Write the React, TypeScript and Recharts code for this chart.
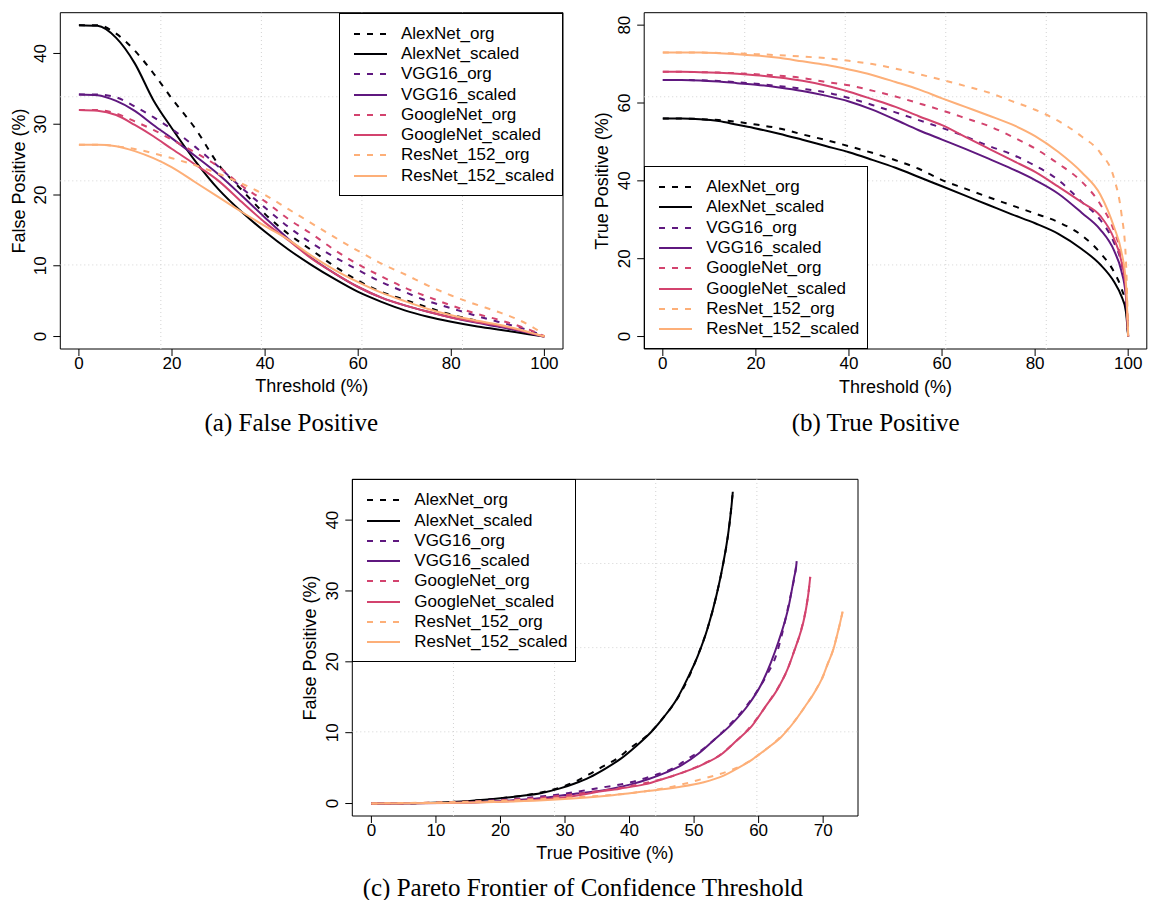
import { LineChart, Line, XAxis, YAxis, ReferenceLine, ReferenceArea } from 'recharts'

// confidence threshold (%) at which every curve was read
const thresholds = [0, 4, 8, 12, 16, 20, 25, 30, 35, 40, 45, 50, 55, 60, 65, 70, 75, 80, 85, 90, 94, 97, 98.5, 99.5, 100]

// false positive (%) per threshold
const alexnetOrgFP = [44.0, 44.0, 42.8, 40.4, 37.2, 33.6, 29.4, 24.3, 20.7, 17.3, 14.5, 12.2, 9.9, 7.9, 6.3, 5.2, 4.1, 3.1, 2.3, 1.5, 0.9, 0.45, 0.22, 0.07, 0]
const alexnetScaledFP = [44.0, 43.9, 42.2, 38.6, 33.4, 29.4, 24.8, 20.8, 17.6, 14.8, 12.3, 10.1, 8.1, 6.3, 4.9, 3.7, 2.8, 2.1, 1.5, 1.0, 0.6, 0.3, 0.15, 0.05, 0]
const vggOrgFP = [34.2, 34.2, 33.8, 32.5, 31.0, 29.3, 26.8, 24.0, 21.0, 18.2, 15.5, 13.2, 11.2, 9.4, 7.7, 6.3, 5.0, 4.0, 3.0, 2.1, 1.4, 0.8, 0.45, 0.15, 0]
const vggScaledFP = [34.2, 34.1, 33.3, 31.9, 29.9, 28.0, 25.5, 22.9, 19.9, 16.8, 13.8, 11.1, 8.9, 7.0, 5.5, 4.4, 3.5, 2.7, 2.0, 1.4, 0.9, 0.45, 0.2, 0.07, 0]
const googleOrgFP = [32.0, 32.0, 31.5, 30.4, 29.2, 27.8, 26.0, 24.0, 21.3, 19.1, 16.6, 14.5, 12.2, 10.2, 8.5, 6.9, 5.6, 4.4, 3.3, 2.4, 1.6, 0.9, 0.5, 0.2, 0]
const googleScaledFP = [32.0, 31.9, 31.3, 29.9, 28.3, 26.5, 24.3, 22.0, 19.0, 16.1, 13.6, 11.0, 8.9, 7.0, 5.5, 4.4, 3.5, 2.7, 2.1, 1.55, 1.0, 0.5, 0.25, 0.08, 0]
const resnetOrgFP = [27.1, 27.1, 26.9, 26.5, 25.9, 25.2, 24.2, 23.0, 21.6, 20.0, 18.0, 16.0, 14.0, 12.1, 10.3, 8.8, 7.2, 5.8, 4.6, 3.5, 2.5, 1.5, 0.9, 0.4, 0]
const resnetScaledFP = [27.1, 27.1, 26.9, 26.2, 25.2, 23.9, 21.8, 19.7, 17.6, 15.6, 13.7, 11.4, 9.4, 7.7, 6.2, 5.0, 3.9, 3.0, 2.3, 1.7, 1.1, 0.55, 0.3, 0.1, 0]

// true positive (%) per threshold
const alexnetOrgTP = [56.0, 56.0, 55.87, 55.61, 55.15, 54.46, 53.47, 51.94, 50.5, 48.9, 47.2, 45.3, 43.1, 40.2, 38.0, 35.8, 33.7, 31.6, 29.4, 26.0, 21.5, 16.5, 12.5, 8.0, 0]
const alexnetScaledTP = [56.0, 55.99, 55.82, 55.36, 54.41, 53.47, 52.12, 50.56, 48.95, 47.35, 45.4, 43.35, 41.0, 38.6, 36.2, 33.8, 31.4, 29.1, 26.4, 22.5, 18.5, 14.0, 10.5, 6.5, 0]
const vggOrgTP = [65.9, 65.9, 65.85, 65.65, 65.35, 64.95, 64.35, 63.65, 62.75, 61.3, 59.5, 57.6, 55.6, 53.6, 51.4, 49.0, 46.8, 43.9, 40.2, 34.6, 30.0, 24.0, 19.0, 11.5, 0]
const vggScaledTP = [65.9, 65.9, 65.8, 65.5, 65.1, 64.7, 64.0, 63.1, 61.9, 60.4, 58.3, 55.7, 53.0, 50.6, 48.2, 45.7, 43.1, 40.2, 36.7, 31.8, 27.5, 22.0, 17.0, 10.5, 0]
const googleOrgTP = [68.0, 68.0, 67.94, 67.81, 67.64, 67.4, 67.0, 66.44, 65.42, 64.55, 63.18, 61.68, 59.92, 58.1, 56.12, 54.1, 51.4, 48.3, 44.4, 39.8, 34.0, 27.0, 21.0, 13.0, 0]
const googleScaledTP = [68.0, 68.0, 67.92, 67.75, 67.5, 67.15, 66.55, 65.7, 64.5, 62.9, 61.0, 59.0, 56.6, 54.3, 51.3, 48.3, 45.3, 42.3, 38.5, 34.5, 31.0, 25.0, 19.5, 12.0, 0]
const resnetOrgTP = [73.0, 73.0, 72.97, 72.87, 72.73, 72.55, 72.28, 71.94, 71.51, 70.83, 70.0, 68.84, 67.42, 65.95, 64.36, 62.69, 60.47, 58.27, 55.4, 51.4, 47.2, 40.5, 32.0, 20.0, 0]
const resnetScaledTP = [73.0, 73.0, 72.97, 72.8, 72.55, 72.2, 71.6, 70.7, 69.8, 68.6, 67.2, 65.4, 63.5, 61.2, 59.0, 56.8, 54.5, 51.5, 47.4, 42.2, 36.5, 28.0, 22.0, 14.0, 0]

const series = [
  { name: 'AlexNet_org', color: '#000004', dashed: true, fp: alexnetOrgFP, tp: alexnetOrgTP },
  { name: 'AlexNet_scaled', color: '#000004', dashed: false, fp: alexnetScaledFP, tp: alexnetScaledTP },
  { name: 'VGG16_org', color: '#5F187F', dashed: true, fp: vggOrgFP, tp: vggOrgTP },
  { name: 'VGG16_scaled', color: '#5F187F', dashed: false, fp: vggScaledFP, tp: vggScaledTP },
  { name: 'GoogleNet_org', color: '#D3436E', dashed: true, fp: googleOrgFP, tp: googleOrgTP },
  { name: 'GoogleNet_scaled', color: '#D3436E', dashed: false, fp: googleScaledFP, tp: googleScaledTP },
  { name: 'ResNet_152_org', color: '#FDAF78', dashed: true, fp: resnetOrgFP, tp: resnetOrgTP },
  { name: 'ResNet_152_scaled', color: '#FDAF78', dashed: false, fp: resnetScaledFP, tp: resnetScaledTP },
]

const fpRows = thresholds.map((t, i) => {
  const row: Record<string, number> = { t }
  series.forEach((s) => (row[s.name] = s.fp[i]))
  return row
})
const tpRows = thresholds.map((t, i) => {
  const row: Record<string, number> = { t }
  series.forEach((s) => (row[s.name] = s.tp[i]))
  return row
})
// pareto frontier: FP against TP, one point per threshold
const paretoPoints = (s: (typeof series)[number]) =>
  thresholds
    .map((_, i) => ({ x: s.tp[i], y: s.fp[i] }))
    .sort((a, b) => a.x - b.x)
    .filter((p, i, arr) => i === 0 || p.x !== arr[i - 1].x)

const DASH = '6 7'
const SANS = '"Liberation Sans", Arial, Helvetica, sans-serif'
const SERIF = '"Liberation Serif", "Times New Roman", serif'

// R style grid(): n evenly spaced lines across the padded range
const gridAt = (lo: number, hi: number, n: number) =>
  Array.from({ length: n - 1 }, (_, k) => lo + ((hi - lo) * (k + 1)) / n)

function RotatedTick(props: any) {
  const { x, y, payload } = props
  const cx = x - 11
  return (
    <text x={cx} y={y} transform={`rotate(-90 ${cx} ${y})`} textAnchor="middle" dominantBaseline="central" fontSize={17} fill="#000">
      {payload.value}
    </text>
  )
}

function LegendBox({ left, top }: { left: number; top: number }) {
  return (
    <div style={{ position: 'absolute', left, top, width: 224, height: 183, border: '1px solid #000', background: '#fff', boxSizing: 'border-box' }}>
      {series.map((s, i) => (
        <div key={s.name} style={{ position: 'absolute', left: 0, top: 10 + i * 20.3, height: 20, display: 'flex', alignItems: 'center', whiteSpace: 'nowrap' }}>
          <svg width={48} height={20} style={{ display: 'block' }}>
            <line x1={14} x2={47} y1={10} y2={10} stroke={s.color} strokeWidth={2} strokeDasharray={s.dashed ? DASH : undefined} />
          </svg>
          <span style={{ marginLeft: 13, fontSize: 17 }}>{s.name}</span>
        </div>
      ))}
    </div>
  )
}

function Title({ x, y, text, rotate, serif }: { x: number; y: number; text: string; rotate?: boolean; serif?: boolean }) {
  return (
    <div
      style={{
        position: 'absolute',
        left: x,
        top: y,
        transform: `translate(-50%, -50%)${rotate ? ' rotate(-90deg)' : ''}`,
        whiteSpace: 'nowrap',
        fontSize: serif ? 25 : 18,
        fontFamily: serif ? SERIF : SANS,
        lineHeight: 1,
      }}
    >
      {text}
    </div>
  )
}

type PanelProps = {
  left: number
  top: number
  width: number
  height: number
  margin: { top: number; right: number; bottom: number; left: number }
  xDomain: [number, number]
  yDomain: [number, number]
  xTicks: number[]
  yTicks: number[]
  pareto?: boolean
  rows?: Record<string, number>[]
}

function Panel(p: PanelProps) {
  return (
    <div style={{ position: 'absolute', left: p.left, top: p.top }}>
      <LineChart width={p.width} height={p.height} data={p.rows} margin={p.margin}>
        <XAxis
          type="number"
          dataKey={p.pareto ? 'x' : 't'}
          domain={p.xDomain}
          ticks={p.xTicks}
          allowDataOverflow
          axisLine={false}
          tickLine={{ stroke: '#000' }}
          tickSize={7}
          tickMargin={1}
          height={1}
          interval={0}
          tick={{ fill: '#000', fontSize: 17 }}
        />
        <YAxis
          type="number"
          domain={p.yDomain}
          ticks={p.yTicks}
          allowDataOverflow
          axisLine={false}
          tickLine={{ stroke: '#000' }}
          tickSize={7}
          tickMargin={2}
          width={1}
          interval={0}
          tick={<RotatedTick />}
        />
        {gridAt(p.xDomain[0], p.xDomain[1], 5).map((g) => (
          <ReferenceLine key={'gx' + g} x={g} stroke="#d3d3d3" strokeDasharray="1 3" />
        ))}
        {gridAt(p.yDomain[0], p.yDomain[1], 4).map((g) => (
          <ReferenceLine key={'gy' + g} y={g} stroke="#d3d3d3" strokeDasharray="1 3" />
        ))}
        {series.map((s) => (
          <Line
            key={s.name}
            data={p.pareto ? paretoPoints(s) : undefined}
            dataKey={p.pareto ? 'y' : s.name}
            type="monotone"
            stroke={s.color}
            strokeWidth={2}
            strokeDasharray={s.dashed ? DASH : undefined}
            dot={false}
            activeDot={false}
            isAnimationActive={false}
          />
        ))}
        <ReferenceArea x1={p.xDomain[0]} x2={p.xDomain[1]} y1={p.yDomain[0]} y2={p.yDomain[1]} fill="none" fillOpacity={0} stroke="#000" strokeWidth={1} />
      </LineChart>
    </div>
  )
}

export default function App() {
  return (
    <div style={{ position: 'absolute', left: 0, top: 0, width: 1149, height: 900, background: '#fff', fontFamily: SANS, color: '#000', overflow: 'hidden' }}>
      <Panel
        left={0}
        top={0}
        width={580}
        height={400}
        margin={{ top: 12.7, left: 59.3, right: 17, bottom: 50 }}
        xDomain={[-4, 104]}
        yDomain={[-1.76, 45.76]}
        xTicks={[0, 20, 40, 60, 80, 100]}
        yTicks={[0, 10, 20, 30, 40]}
        rows={fpRows}
      />
      <LegendBox left={339} top={12.7} />
      <Title x={311.7} y={386} text="Threshold (%)" />
      <Title x={18.5} y={181} text="False Positive (%)" rotate />
      <Title x={291.3} y={421.7} text="(a) False Positive" serif />

      <Panel
        left={580}
        top={0}
        width={569}
        height={400}
        margin={{ top: 12.7, left: 63.2, right: 2.2, bottom: 50 }}
        xDomain={[-4, 104]}
        yDomain={[-3.2, 83.2]}
        xTicks={[0, 20, 40, 60, 80, 100]}
        yTicks={[0, 20, 40, 60, 80]}
        rows={tpRows}
      />
      <LegendBox left={644.2} top={166} />
      <Title x={895.5} y={386.7} text="Threshold (%)" />
      <Title x={601.8} y={181} text="True Positive (%)" rotate />
      <Title x={875.7} y={421.7} text="(b) True Positive" serif />

      <Panel
        left={290}
        top={460}
        width={590}
        height={400}
        margin={{ top: 19.3, left: 61.3, right: 22, bottom: 43 }}
        xDomain={[-2.96, 75.4]}
        yDomain={[-1.76, 45.76]}
        xTicks={[0, 10, 20, 30, 40, 50, 60, 70]}
        yTicks={[0, 10, 20, 30, 40]}
        pareto
      />
      <LegendBox left={352.3} top={479.3} />
      <Title x={605} y={853.3} text="True Positive (%)" />
      <Title x={309.6} y={647.6} text="False Positive (%)" rotate />
      <Title x={582.9} y={886.8} text="(c) Pareto Frontier of Confidence Threshold" serif />
    </div>
  )
}
